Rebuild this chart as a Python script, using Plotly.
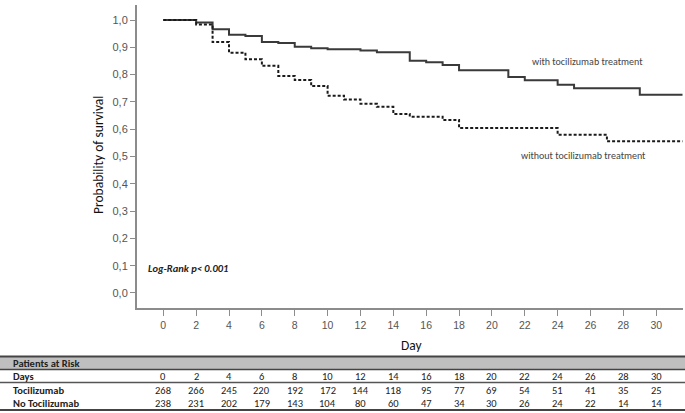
import plotly.graph_objects as go

# ---------------- data ----------------
days_toci = [0, 2, 3, 4, 5, 6, 7, 8, 9, 10, 12, 13, 15, 16, 17, 18, 21, 22, 24, 25, 29, 31.6]
surv_toci = [1.0, 0.991, 0.966, 0.946, 0.941, 0.919, 0.916, 0.902, 0.897, 0.893, 0.888, 0.882,
             0.851, 0.845, 0.835, 0.816, 0.791, 0.779, 0.763, 0.750, 0.726, 0.726]

days_no = [0, 2, 3, 4, 5, 6, 7, 8, 9, 10, 11, 12, 13, 14, 15, 17, 18, 24, 27, 31.6]
surv_no = [1.0, 0.984, 0.919, 0.880, 0.856, 0.832, 0.795, 0.780, 0.758, 0.723, 0.709, 0.693,
           0.682, 0.656, 0.646, 0.634, 0.604, 0.580, 0.556, 0.556]

y_ticks = [0.0, 0.1, 0.2, 0.3, 0.4, 0.5, 0.6, 0.7, 0.8, 0.9, 1.0]
y_tick_labels = ["0,0", "0,1", "0,2", "0,3", "0,4", "0,5", "0,6", "0,7", "0,8", "0,9", "1,0"]
x_ticks = [0, 2, 4, 6, 8, 10, 12, 14, 16, 18, 20, 22, 24, 26, 28, 30]

risk_days = [0, 2, 4, 6, 8, 10, 12, 14, 16, 18, 20, 22, 24, 26, 28, 30]
risk_toci = [268, 266, 245, 220, 192, 172, 144, 118, 95, 77, 69, 54, 51, 41, 35, 25]
risk_no = [238, 231, 202, 179, 143, 104, 80, 60, 47, 34, 30, 26, 24, 22, 14, 14]

# ---------------- layout helpers ----------------
W, H = 685, 413
ML, MR, MT, MB = 137, 2, 5, 105
PW, PH = W - ML - MR, H - MT - MB


def px(p):
    return (p - ML) / PW


def py(p):
    return (MT + PH - p) / PH


CAL = "Carlito, Lato, 'Open Sans', sans-serif"
ARI = "'Liberation Sans', Arial, sans-serif"
AXC = "#8c8c8c"

fig = go.Figure()
fig.add_trace(go.Scatter(x=days_toci, y=surv_toci, mode="lines",
                         line=dict(shape="hv", color="#3a3a3a", width=2),
                         showlegend=False, hoverinfo="skip"))
fig.add_trace(go.Scatter(x=days_no, y=surv_no, mode="lines",
                         line=dict(shape="hv", color="#1a1a1a", width=2, dash="3px,2px"),
                         showlegend=False, hoverinfo="skip"))

fig.update_layout(
    width=W, height=H,
    margin=dict(l=ML, r=MR, t=MT, b=MB, autoexpand=False),
    paper_bgcolor="white", plot_bgcolor="white",
    xaxis=dict(range=[-1.6, 31.63], tickvals=x_ticks, showgrid=False, zeroline=False,
               showline=True, linecolor=AXC, linewidth=2, ticks="outside", ticklen=6,
               tickcolor=AXC, tickwidth=1, automargin=False,
               tickfont=dict(family=ARI, size=10.5, color="#555")),
    yaxis=dict(range=[-0.055, 1.055], tickvals=y_ticks, ticktext=y_tick_labels,
               showgrid=False, zeroline=False, showline=True, linecolor=AXC, linewidth=2,
               ticks="outside", ticklen=5, tickcolor=AXC, tickwidth=1, automargin=False,
               tickfont=dict(family=ARI, size=11, color="#555")),
)

ann = []


def note(text, x, y, size, color="#222", xanchor="center", xref="paper", angle=0):
    ann.append(dict(text=text, x=x, y=y, xref=xref, yref="paper", xanchor=xanchor,
                    yanchor="middle", textangle=angle, showarrow=False,
                    font=dict(family=CAL, size=size, color=color)))


note("Probability of survival", px(98), py(155), 13.5, color="#111", angle=-90)
note("Day", px(412), py(345), 13.5, color="#111")
note("with tocilizumab treatment", px(587), py(61), 10, color="#444")
note("without tocilizumab treatment", px(583), py(155), 10, color="#444")
note("<b><i>Log-Rank p&lt; 0.001</i></b>", px(146), py(268), 10.5, xanchor="left")

# table rows
row_y = {"band": 363, "days": 376, "toci": 390.5, "no": 403}
for label, key in [("Patients at Risk", "band"), ("Days", "days"), ("Tocilizumab", "toci"),
                   ("No Tocilizumab", "no")]:
    note("<b>" + label + "</b>", px(11), py(row_y[key]), 10.5, xanchor="left")
for d, a, b in zip(risk_days, risk_toci, risk_no):
    for val, key in [(d, "days"), (a, "toci"), (b, "no")]:
        note(str(val), d, py(row_y[key]), 10.5, xref="x")

shapes = [
    dict(type="rect", xref="paper", yref="paper", x0=px(0), x1=px(W), y0=py(369), y1=py(357),
         fillcolor="#bfbfbf", line=dict(width=0), layer="below"),
    dict(type="line", xref="paper", yref="paper", x0=px(0), x1=px(W), y0=py(356.5), y1=py(356.5),
         line=dict(color="#444", width=2)),
    dict(type="line", xref="paper", yref="paper", x0=px(0), x1=px(W), y0=py(369.5), y1=py(369.5),
         line=dict(color="#444", width=1.5)),
    dict(type="line", xref="paper", yref="paper", x0=px(0), x1=px(W), y0=py(382.5), y1=py(382.5),
         line=dict(color="#555", width=1.5)),
    dict(type="line", xref="paper", yref="paper", x0=px(0), x1=px(W), y0=py(410), y1=py(410),
         line=dict(color="#444", width=2)),
]
fig.update_layout(annotations=ann, shapes=shapes)

fig.write_html("out.html", config={"displayModeBar": False},
               post_script="document.body.style.margin='0px';document.body.style.padding='0px';")
